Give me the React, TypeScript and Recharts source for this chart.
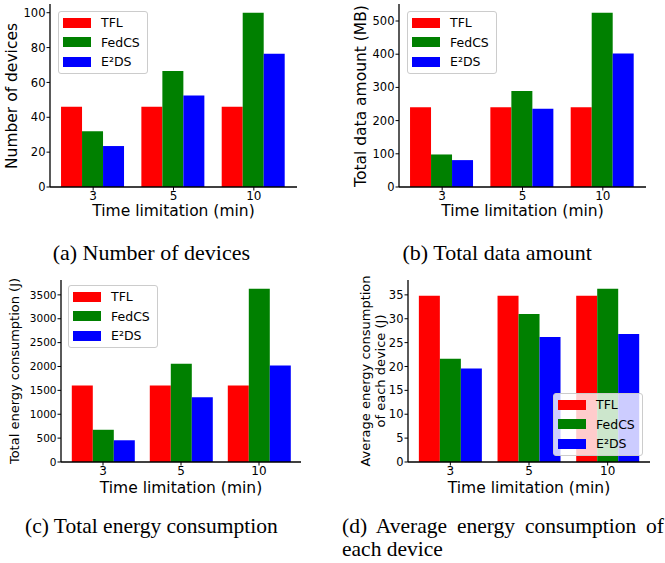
import { BarChart, Bar, XAxis, YAxis, Legend } from 'recharts';

const categories = ['3', '5', '10'];

const devicesTFL = [46, 46, 46];
const devicesFedCS = [32, 66.5, 100];
const devicesE2DS = [23.5, 52.5, 76.5];
const devicesTicks = [0, 20, 40, 60, 80, 100];

const dataTFL = [240, 240, 240];
const dataFedCS = [98, 289, 525];
const dataE2DS = [81, 236, 402];
const dataTicks = [0, 100, 200, 300, 400, 500];

const energyTFL = [1600, 1600, 1600];
const energyFedCS = [675, 2055, 3630];
const energyE2DS = [455, 1355, 2020];
const energyTicks = [0, 500, 1000, 1500, 2000, 2500, 3000, 3500];

const avgTFL = [34.8, 34.8, 34.8];
const avgFedCS = [21.6, 31.0, 36.3];
const avgE2DS = [19.6, 26.2, 26.8];
const avgTicks = [0, 5, 10, 15, 20, 25, 30, 35];

const seriesNames = ['TFL', 'FedCS', 'E²DS'];
const seriesColors = ['#ff0000', '#008000', '#0000ff'];

const SANS = '"DejaVu Sans", sans-serif';
const SERIF = '"Liberation Serif", "Times New Roman", serif';
const Y_W = 50;
const X_H = 25;
const PAD = 5;

function buildRows(a: number[], b: number[], c: number[]) {
  return categories.map((cat, i) => ({ cat, s0: a[i], s1: b[i], s2: c[i] }));
}

function LegendBox({ payload }: any) {
  // keep the order the series were drawn in
  const items = [...(payload || [])].sort(
    (p: any, q: any) => seriesNames.indexOf(p.value) - seriesNames.indexOf(q.value)
  );
  return (
    <div
      style={{
        display: 'inline-block',
        background: 'rgba(255,255,255,0.8)',
        border: '1px solid #ccc',
        borderRadius: 3,
        padding: '1px 7px 1px 4px',
        fontFamily: SANS,
        fontSize: 12.5,
        color: '#000',
      }}
    >
      {items.map((e: any) => (
        <div key={e.value} style={{ display: 'flex', alignItems: 'center', height: 19.5 }}>
          <span style={{ width: 28, height: 10, background: e.color, marginRight: 10 }} />
          <span>{e.value}</span>
        </div>
      ))}
    </div>
  );
}

interface PanelProps {
  rows: any[];
  ticks: number[];
  frame: { x: number; y: number; w: number; h: number };
  legend: { x: number; y: number };
  tickFont: number;
}

function Panel({ rows, ticks, frame, legend, tickFont }: PanelProps) {
  const left = frame.x - Y_W;
  const top = frame.y - PAD;
  const maxVal = Math.max(...rows.flatMap((r) => [r.s0, r.s1, r.s2]));
  const axisLine = { stroke: '#000', strokeWidth: 1.3 };
  return (
    <div style={{ position: 'absolute', left, top }}>
      <BarChart
        width={Y_W + frame.w + PAD}
        height={PAD + frame.h + X_H}
        data={rows}
        margin={{ top: PAD, right: PAD, left: 0, bottom: 0 }}
        barCategoryGap="10%"
        barGap={0}
      >
        <XAxis
          dataKey="cat"
          interval={0}
          height={X_H}
          padding={{ left: 3, right: 3 }}
          tickSize={3.5}
          tickMargin={1}
          tick={{ fill: '#000', fontSize: 12, fontFamily: SANS }}
          tickLine={{ stroke: '#000' }}
          axisLine={axisLine}
        />
        <XAxis
          xAxisId="top"
          dataKey="cat"
          orientation="top"
          height={0}
          tick={false}
          tickLine={false}
          axisLine={axisLine}
        />
        <YAxis
          type="number"
          width={Y_W}
          domain={[0, maxVal * 1.05]}
          ticks={ticks}
          allowDataOverflow
          tickSize={3.5}
          tickMargin={1}
          tick={{ fill: '#000', fontSize: tickFont, fontFamily: SANS }}
          tickLine={{ stroke: '#000' }}
          axisLine={axisLine}
        />
        <YAxis
          yAxisId="right"
          orientation="right"
          width={0}
          domain={[0, 1]}
          tick={false}
          tickLine={false}
          axisLine={axisLine}
        />
        {['s0', 's1', 's2'].map((k, i) => (
          <Bar key={k} dataKey={k} name={seriesNames[i]} fill={seriesColors[i]} isAnimationActive={false} />
        ))}
        <Legend
          layout="vertical"
          align="center"
          verticalAlign="middle"
          content={<LegendBox />}
          wrapperStyle={{ left: legend.x - left, top: legend.y - top, width: 'auto' }}
        />
      </BarChart>
    </div>
  );
}

function Label({ x, y, size, rotate, children }: any) {
  return (
    <div
      style={{
        position: 'absolute',
        left: x,
        top: y,
        transform: `translate(-50%, -50%)${rotate ? ' rotate(-90deg)' : ''}`,
        whiteSpace: 'nowrap',
        fontFamily: SANS,
        fontSize: size,
        lineHeight: '14.5px',
        textAlign: 'center',
        color: '#000',
      }}
    >
      {children}
    </div>
  );
}

const captionStyle: any = {
  position: 'absolute',
  fontFamily: SERIF,
  fontSize: 21.5,
  lineHeight: '23px',
  color: '#000',
  whiteSpace: 'nowrap',
};

export default function App() {
  return (
    <div style={{ position: 'absolute', left: 0, top: 0, width: 665, height: 563, background: '#fff', overflow: 'hidden' }}>
      <Panel
        rows={buildRows(devicesTFL, devicesFedCS, devicesE2DS)}
        ticks={devicesTicks}
        frame={{ x: 50, y: 4, w: 247, h: 183 }}
        legend={{ x: 58, y: 11 }}
        tickFont={11.5}
      />
      <Panel
        rows={buildRows(dataTFL, dataFedCS, dataE2DS)}
        ticks={dataTicks}
        frame={{ x: 399, y: 4, w: 247, h: 183 }}
        legend={{ x: 407, y: 11 }}
        tickFont={11.5}
      />
      <Panel
        rows={buildRows(energyTFL, energyFedCS, energyE2DS)}
        ticks={energyTicks}
        frame={{ x: 61, y: 280, w: 240, h: 182 }}
        legend={{ x: 68, y: 285 }}
        tickFont={10.5}
      />
      <Panel
        rows={buildRows(avgTFL, avgFedCS, avgE2DS)}
        ticks={avgTicks}
        frame={{ x: 408, y: 280, w: 242, h: 182 }}
        legend={{ x: 553, y: 393 }}
        tickFont={11.5}
      />

      <Label x={12} y={95.5} size={15.5} rotate>Number of devices</Label>
      <Label x={361} y={95.5} size={15.5} rotate>Total data amount (MB)</Label>
      <Label x={15} y={371} size={13} rotate>Total energy consumption (J)</Label>
      <Label x={373} y={371} size={13} rotate>
        <div>Average energy consumption</div>
        <div>of each device (J)</div>
      </Label>
      <Label x={173.5} y={211} size={15.5}>Time limitation (min)</Label>
      <Label x={522.5} y={211} size={15.5}>Time limitation (min)</Label>
      <Label x={181} y={488} size={15.5}>Time limitation (min)</Label>
      <Label x={529} y={488} size={15.5}>Time limitation (min)</Label>

      <div style={{ ...captionStyle, left: 52.7, top: 241, fontSize: 22 }}>(a) Number of devices</div>
      <div style={{ ...captionStyle, left: 402.5, top: 241, fontSize: 22 }}>(b) Total data amount</div>
      <div style={{ ...captionStyle, left: 25, top: 515 }}>(c) Total energy consumption</div>
      <div
        style={{
          ...captionStyle,
          left: 342,
          top: 515,
          width: 322,
          whiteSpace: 'normal',
          textAlign: 'justify',
          textAlignLast: 'left',
        }}
      >
        (d) Average energy consumption of each device
      </div>
    </div>
  );
}
